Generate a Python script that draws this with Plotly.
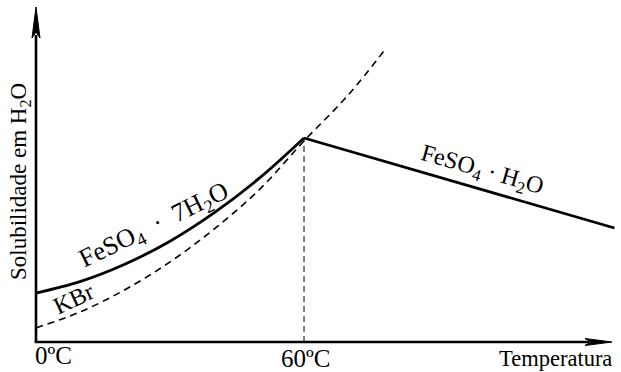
import plotly.graph_objects as go

# Data (arbitrary solubility units, temperature in ºC)
t_hepta = [0, 10, 20, 30, 40, 50, 60]
s_hepta = [16.3, 20.2, 26.0, 33.6, 43.2, 54.6, 68.0]

t_mono = [60, 129.5]
s_mono = [68.0, 38.0]

t_kbr = [0, 10, 20, 30, 40, 50, 60, 70, 78.4]
s_kbr = [4.7, 10.1, 17.5, 26.7, 37.8, 50.8, 67.0, 82.5, 98.0]

tick_vals = [0, 60]
tick_text = ["0ºC", "60ºC"]

FONT = "Liberation Serif"
# data units per pixel
DX = 1 / 4.467
DY = 1 / 3.0
X_RANGE = [-36 * DX, (621 - 36) * DX]
Y_RANGE = [-30 * DY, 342 * DY]

Y_TIP = (342 - 7) * DY
Y_HEAD = (342 - 38) * DY
X_TIP = (612 - 36) * DX
X_HEAD = (585 - 36) * DX

fig = go.Figure()

# axes lines
fig.add_trace(go.Scatter(x=[0, 0], y=[0, Y_HEAD + 1], mode="lines",
                         line=dict(color="black", width=2.6), hoverinfo="skip", showlegend=False))
fig.add_trace(go.Scatter(x=[-0.3, X_HEAD + 1], y=[0, 0], mode="lines",
                         line=dict(color="black", width=2.6), hoverinfo="skip", showlegend=False))

# vertical guide at 60ºC
fig.add_trace(go.Scatter(x=[tick_vals[1], tick_vals[1]], y=[0, s_hepta[-1]], mode="lines",
                         line=dict(color="black", width=1, dash="6px,4px"),
                         hoverinfo="skip", showlegend=False))
# KBr dashed curve
fig.add_trace(go.Scatter(x=t_kbr, y=s_kbr, mode="lines", line_shape="spline",
                         line=dict(color="black", width=1.6, dash="7px,5px"),
                         showlegend=False))
# FeSO4 . 7H2O
fig.add_trace(go.Scatter(x=t_hepta, y=s_hepta, mode="lines", line_shape="spline",
                         line=dict(color="black", width=2.8),
                         showlegend=False))
# FeSO4 . H2O
fig.add_trace(go.Scatter(x=t_mono, y=s_mono, mode="lines",
                         line=dict(color="black", width=2.8),
                         showlegend=False))

# arrowheads
shapes = [
    dict(type="path", xref="x", yref="y", fillcolor="black", line=dict(color="black", width=1),
         path=f"M {-4*DX},{Y_HEAD} L 0,{Y_TIP} L {4*DX},{Y_HEAD} L 0,{Y_HEAD + 6*DY} Z"),
    dict(type="path", xref="x", yref="y", fillcolor="black", line=dict(color="black", width=1),
         path=f"M {X_HEAD},{-3.5*DY} L {X_TIP},0 L {X_HEAD},{3.5*DY} L {X_HEAD + 6*DX},0 Z"),
]

ann = []
# tick labels
ann.append(dict(x=-3 * DX, y=-13 * DY, xref="x", yref="y", text=tick_text[0], showarrow=False,
                xanchor="left", yanchor="middle",
                font=dict(family=FONT, size=25, color="black")))
ann.append(dict(x=tick_vals[1] + 1.5 * DX, y=-16 * DY, xref="x", yref="y", text=tick_text[1], showarrow=False,
                xanchor="center", yanchor="middle",
                font=dict(family=FONT, size=25, color="black")))
# axis titles
ann.append(dict(x=(614 - 36) * DX, y=-16 * DY, xref="x", yref="y", text="Temperatura", showarrow=False,
                xanchor="right", yanchor="middle",
                font=dict(family=FONT, size=22.5, color="black")))
ann.append(dict(x=-16 * DX, y=(342 - 182) * DY, xref="x", yref="y", text="Solubilidade em H<sub>2</sub>O",
                showarrow=False, textangle=-90, xanchor="center", yanchor="middle",
                font=dict(family=FONT, size=23, color="black")))

# curve labels
ann.append(dict(x=(154 - 36) * DX, y=(342 - 226) * DY, xref="x", yref="y",
                text="FeSO<sub>4</sub>\u00a0\u00a0\u00b7\u00a0\u00a07H<sub>2</sub>O", showarrow=False,
                textangle=-26, font=dict(family=FONT, size=26, color="black")))
ann.append(dict(x=(73 - 36) * DX, y=(342 - 299) * DY, xref="x", yref="y", text="KBr", showarrow=False,
                textangle=-25, font=dict(family=FONT, size=24, color="black")))
ann.append(dict(x=(482 - 36) * DX, y=(342 - 171) * DY, xref="x", yref="y",
                text="FeSO<sub>4</sub>\u00a0\u00b7\u00a0H<sub>2</sub>O", showarrow=False,
                textangle=16, font=dict(family=FONT, size=24, color="black")))

fig.update_layout(
    width=621, height=372,
    margin=dict(l=0, r=0, t=0, b=0),
    paper_bgcolor="white", plot_bgcolor="white",
    xaxis=dict(range=X_RANGE, visible=False, fixedrange=True),
    yaxis=dict(range=Y_RANGE, visible=False, fixedrange=True),
    shapes=shapes,
    annotations=ann,
    showlegend=False,
)

fig.write_html("out.html", post_script="document.body.style.margin='0';",
               config={"displayModeBar": False})
